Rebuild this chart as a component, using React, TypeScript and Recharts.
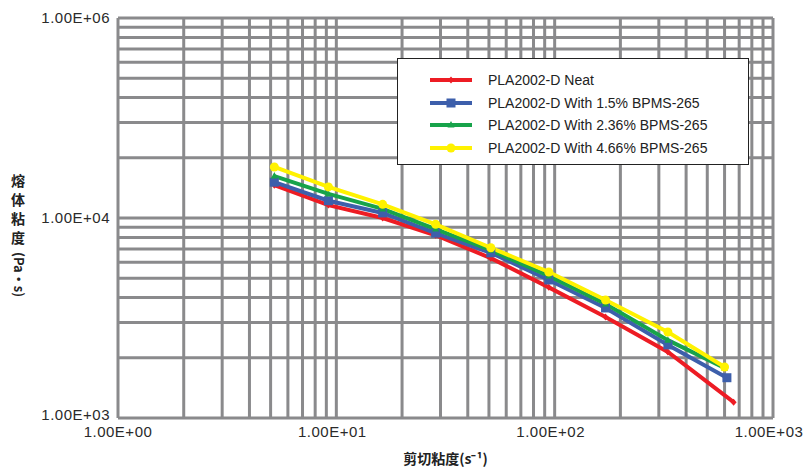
import React from 'react';
import { LineChart, Line, XAxis, YAxis, CartesianGrid, Legend } from 'recharts';

// log grid ticks (lines at 1..9 of each decade)
const xTicks = [1, 2, 3, 4, 5, 6, 7, 8, 9, 10, 20, 30, 40, 50, 60, 70, 80, 90, 100, 200, 300, 400, 500, 600, 700, 800, 900, 1000];
const yTicks = [1000, 2000, 3000, 4000, 5000, 6000, 7000, 8000, 9000, 10000, 20000, 30000, 40000, 50000, 60000, 70000, 80000, 90000, 100000];
const xMajorTicks = [1, 10, 100, 1000];
const xMajorLabels = ['1.00E+00', '1.00E+01', '1.00E+02', '1.00E+03'];
const yMajorTicks = [1000, 10000, 100000];
const yMajorLabels = ['1.00E+03', '1.00E+04', '1.00E+06'];

const seriesNames = [
  'PLA2002-D Neat',
  'PLA2002-D With 1.5% BPMS-265',
  'PLA2002-D With 2.36% BPMS-265',
  'PLA2002-D With 4.66% BPMS-265',
];

// shear rate (1/s) and melt viscosity (Pa·s)
const neatX = [5.2, 9.2, 16.3, 28.5, 51, 94, 171, 330, 660];
const neatY = [14600, 11600, 10000, 8200, 6300, 4500, 3200, 2140, 1200];
const bpms15X = [5.2, 9.2, 16.3, 28.5, 51, 94, 171, 330, 615];
const bpms15Y = [15100, 12200, 10600, 8400, 6700, 4900, 3550, 2320, 1590];
const bpms236X = [5.2, 9.2, 16.3, 28.5, 51, 94, 171, 330, 600];
const bpms236Y = [16200, 13200, 11100, 8800, 6900, 5130, 3720, 2450, 1780];
const bpms466X = [5.2, 9.2, 16.3, 28.5, 51, 94, 171, 330, 600];
const bpms466Y = [18000, 14300, 11700, 9300, 7100, 5370, 3890, 2690, 1800];

const toPoints = (xs: number[], ys: number[]) => xs.map((x, i) => ({ x, y: ys[i] }));

const colors = ['#ed1c24', '#3d5fab', '#17a34a', '#fff200'];
const markers = ['diamond', 'square', 'triangle', 'circle'];

const series = [
  toPoints(neatX, neatY),
  toPoints(bpms15X, bpms15Y),
  toPoints(bpms236X, bpms236Y),
  toPoints(bpms466X, bpms466Y),
];

const tickFont = { fontFamily: 'Liberation Sans, Arial, sans-serif', fontSize: 15, letterSpacing: 0.5, fill: '#2a2a2a' };

function Marker({ cx, cy, kind, color }: { cx: number; cy: number; kind: string; color: string }) {
  if (cx == null || cy == null) return <g />;
  if (kind === 'square') return <rect x={cx - 4.5} y={cy - 4.5} width={9} height={9} fill={color} />;
  if (kind === 'triangle') return <polygon points={`${cx},${cy - 4} ${cx + 3.5},${cy + 2.5} ${cx - 3.5},${cy + 2.5}`} fill={color} />;
  if (kind === 'diamond') return <polygon points={`${cx},${cy - 3.5} ${cx + 3},${cy} ${cx},${cy + 3.5} ${cx - 3},${cy}`} fill={color} />;
  return <circle cx={cx} cy={cy} r={4.5} fill={color} />;
}

function XTick({ x, y, payload }: any) {
  const i = xMajorTicks.indexOf(payload.value);
  if (i < 0) return <g />;
  return (
    <text x={i === 0 ? x : x - 4} y={y + 19} textAnchor="middle" {...tickFont}>
      {xMajorLabels[i]}
    </text>
  );
}

function YTick({ x, y, payload }: any) {
  const i = yMajorTicks.indexOf(payload.value);
  if (i < 0) return <g />;
  return (
    <text x={x - 8} y={i === 0 ? y + 2 : y + 5} textAnchor="end" {...tickFont}>
      {yMajorLabels[i]}
    </text>
  );
}

function YTitle() {
  const chars = ['熔', '体', '粘', '度'];
  return (
    <g fontFamily="Noto Sans CJK SC" fontSize={14} fontWeight="bold" fill="#222">
      {chars.map((c, i) => (
        <text key={c} x={18} y={186 + i * 19} textAnchor="middle">{c}</text>
      ))}
      <text x={14} y={252} transform="rotate(90 14 252)" fontSize={13}>(Pa·s)</text>
    </g>
  );
}

function LegendBox() {
  return (
    <div style={{ width: 352, height: 107, border: '1.5px solid #222', background: '#fff', boxSizing: 'border-box', paddingTop: 10 }}>
      {seriesNames.map((name, i) => (
        <div key={name} style={{ display: 'flex', alignItems: 'center', height: 22.5 }}>
          <svg width={90} height={14} style={{ flex: 'none' }}>
            <line x1={32} x2={74} y1={7} y2={7} stroke={colors[i]} strokeWidth={4} />
            <Marker cx={53} cy={7} kind={markers[i]} color={colors[i]} />
          </svg>
          <span style={{ fontFamily: 'Liberation Sans, Arial, sans-serif', fontSize: 14, color: '#222', whiteSpace: 'nowrap' }}>{name}</span>
        </div>
      ))}
    </div>
  );
}

export default function App() {
  return (
    <div style={{ position: 'absolute', left: 0, top: 0, background: '#fff' }}>
      <LineChart width={807} height={471} margin={{ top: 18, right: 34, bottom: 0, left: 0 }}>
        <CartesianGrid stroke="#8a8a8c" strokeWidth={3} />
        <XAxis
          type="number"
          dataKey="x"
          scale="log"
          domain={[1, 1000]}
          ticks={xTicks}
          interval={0}
          allowDataOverflow
          height={53}
          axisLine={false}
          tickLine={false}
          tickSize={0}
          tickMargin={0}
          tick={<XTick />}
          label={{ value: '剪切粘度(s⁻¹)', position: 'insideBottom', offset: 7, fontFamily: 'Noto Sans CJK SC', fontSize: 14, fontWeight: 'bold', fill: '#222', dx: 0 }}
        />
        <YAxis
          type="number"
          dataKey="y"
          scale="log"
          domain={[1000, 100000]}
          ticks={yTicks}
          interval={0}
          allowDataOverflow
          width={118}
          axisLine={false}
          tickLine={false}
          tickSize={0}
          tickMargin={0}
          tick={<YTick />}
          label={{ content: () => <YTitle /> }}
        />
        <Legend
          layout="vertical"
          align="center"
          verticalAlign="middle"
          content={() => <LegendBox />}
          wrapperStyle={{ left: 397, top: 58, width: 352, height: 107 }}
        />
        {series.map((data, i) => (
          <Line
            key={seriesNames[i]}
            name={seriesNames[i]}
            data={data}
            dataKey="y"
            stroke={colors[i]}
            strokeWidth={4}
            isAnimationActive={false}
            dot={(p: any) => <Marker key={p.index} cx={p.cx} cy={p.cy} kind={markers[i]} color={colors[i]} />}
            activeDot={false}
          />
        ))}
      </LineChart>
    </div>
  );
}
